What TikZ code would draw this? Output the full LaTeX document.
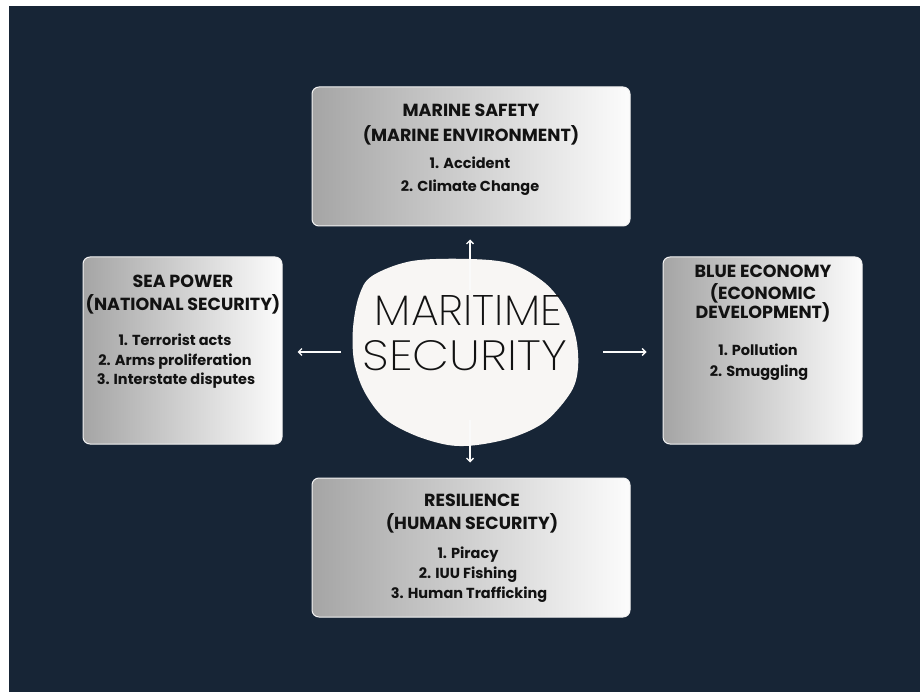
\documentclass[tikz,border=0pt]{standalone}
\usepackage{fontspec}
\usepackage{graphicx}
\setmainfont{Poppins}
\newfontfamily\thinfont{Poppins ExtraLight}
\newfontfamily\semifont{Poppins SemiBold}
\usetikzlibrary{arrows.meta}
\definecolor{bg}{RGB}{23,37,54}
\definecolor{cardL}{RGB}{165,165,165}
\definecolor{cardR}{RGB}{252,252,252}
\definecolor{blobc}{RGB}{248,246,244}
\definecolor{ink}{RGB}{18,18,18}
\tikzset{
  card/.style={rounded corners=7pt, draw=white!90!gray, line width=1pt,
    left color=cardL, right color=cardR, inner sep=0pt},
  ttl/.style={anchor=base, inner sep=0pt, text=ink, font=\fontsize{17.5}{20}\selectfont\bfseries},
  itm/.style={anchor=base, inner sep=0pt, text=ink, font=\fontsize{14.5}{17}\selectfont\bfseries},
  arr/.style={draw=white!96!gray, line width=1.3pt, -{Straight Barb[length=3.5pt,width=7pt]}},
  big/.style={anchor=base, inner sep=0pt, text=ink}
}
\begin{document}
\begin{tikzpicture}[x=1pt,y=-1pt]
\path[use as bounding box] (0,0) rectangle (920,692);
\fill[white] (0,0) rectangle (920,692);
\fill[bg] (9,6) rectangle (920,692);

% cards
\node[card, minimum width=318pt, minimum height=139pt] (top) at (471,156.5) {};
\node[card, minimum width=199pt, minimum height=187pt] (left) at (182.5,350.5) {};
\node[card, minimum width=199pt, minimum height=187pt] (right) at (762.5,350.5) {};
\node[card, minimum width=318pt, minimum height=139pt] (bottom) at (471,547.5) {};

% top card text
\node[ttl] (t1) at (471,117) {MARINE SAFETY};
\node[ttl] (t2) at (471,142) {(MARINE ENVIRONMENT)};
\node[itm] (t3) at (470,169) {1. Accident};
\node[itm] (t4) at (470,192) {2. Climate Change};

% left card text
\node[ttl] (l1) at (183,288) {SEA POWER};
\node[ttl] (l2) at (183,311) {(NATIONAL SECURITY)};
\node[itm] (l3) at (175,345) {1. Terrorist acts};
\node[itm] (l4) at (175,365) {2. Arms proliferation};
\node[itm] (l5) at (176,384) {3. Interstate disputes};

% right card text
\node[ttl] (r1) at (763,278) {BLUE ECONOMY};
\node[ttl] (r2) at (763,299) {(ECONOMIC};
\node[ttl] (r3) at (763,319) {DEVELOPMENT)};
\node[itm] (r4) at (758,355) {1. Pollution};
\node[itm] (r5) at (759,376) {2. Smuggling};

% bottom card text
\node[ttl] (b1) at (472,506) {RESILIENCE};
\node[ttl] (b2) at (472,529) {(HUMAN SECURITY)};
\node[itm] (b3) at (468,558) {1. Piracy};
\node[itm] (b4) at (468,578) {2. IUU Fishing};
\node[itm] (b5) at (469,598) {3. Human Trafficking};

% central blob
\fill[blobc] plot[smooth cycle, tension=0.55] coordinates {
  (372,276) (412,261) (470,259) (512,264) (545,283) (565,308) (576,338)
  (578,368) (571,392) (546,421) (514,437) (477,445) (448,445) (414,435)
  (384,418) (364,391) (354,361) (353,328) (359,296)};
\node[big] (core1) at (468.5,325) {\resizebox{187pt}{30pt}{\thinfont MARITIME}};
\node[big] (core2) at (465,370) {\resizebox{204pt}{30pt}{\thinfont SECURITY}};

% connectors
\coordinate (upS) at (470,290);
\coordinate (dnS) at (470,420);
\coordinate (lS) at (341,352);
\coordinate (rS) at (603,352);
\draw[arr] (upS) -- ([yshift=-13pt]top.south -| upS);
\draw[arr] (dnS) -- ([yshift=15pt]bottom.north -| dnS);
\draw[arr] (lS) -- ([xshift=15pt]left.east |- lS);
\draw[arr] (rS) -- ([xshift=-16pt]right.west |- rS);
\end{tikzpicture}
\end{document}
